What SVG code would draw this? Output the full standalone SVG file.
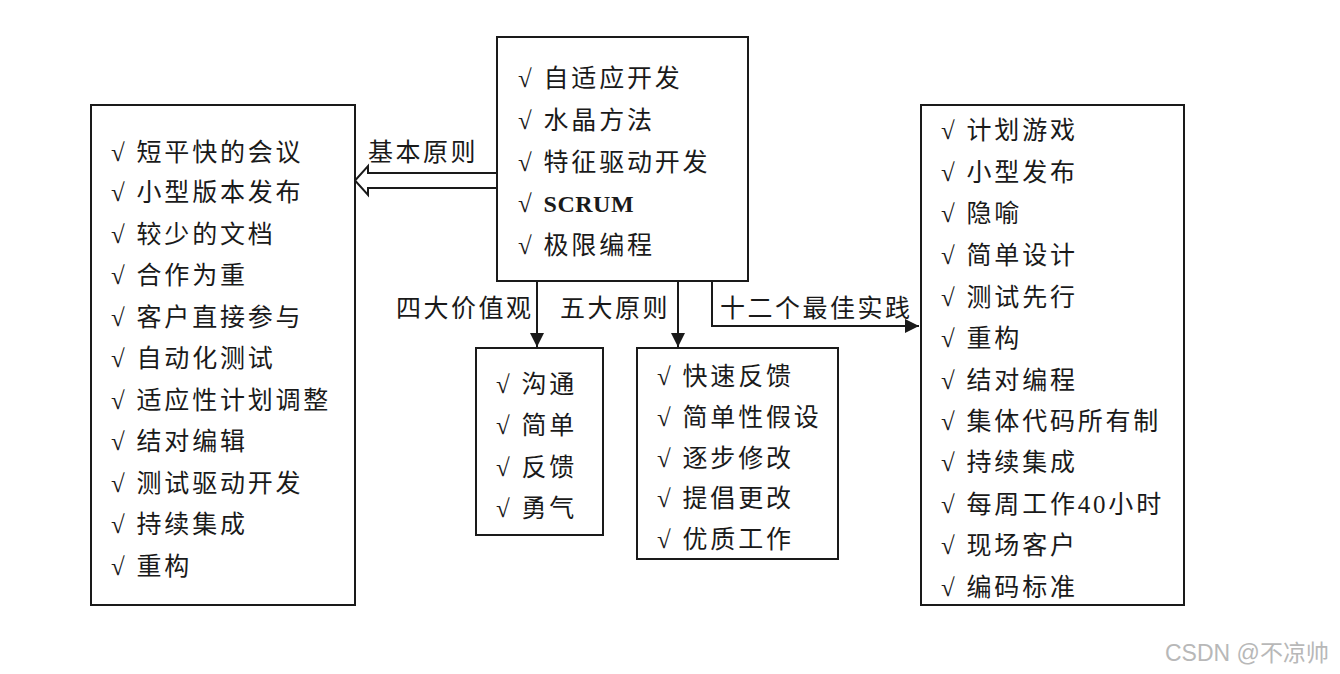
<svg xmlns="http://www.w3.org/2000/svg" width="1340" height="674" viewBox="0 0 1340 674">
<defs>
<style>
.box{fill:#fff;stroke:#1a1a1a;stroke-width:2}
.t{font-family:"Liberation Serif","Noto Sans CJK SC",serif;font-size:25px;fill:#1a1a1a;letter-spacing:2.8px}
.s{font-weight:bold;font-size:24px;letter-spacing:0.5px}
.lbl{font-family:"Noto Sans CJK SC",sans-serif;font-size:25px;fill:#1a1a1a;letter-spacing:2.5px}
.ln{fill:none;stroke:#1a1a1a;stroke-width:2}
.wm{font-family:"Liberation Sans","Noto Sans CJK SC",sans-serif;font-size:23px;fill:#b8b8b8}
</style>
<marker id="ah" viewBox="0 0 14 14" refX="14" refY="7" markerWidth="14" markerHeight="14" markerUnits="userSpaceOnUse" orient="auto">
<path d="M0,0 L14,7 L0,14 Z" fill="#1a1a1a"/>
</marker>
</defs>
<rect width="1340" height="674" fill="#fff"/>

<g id="connectors">
<path class="ln" d="M497,173 H368 V166 L355,180.5 L368,195 V188 H497" fill="#fff"/>
<line class="ln" x1="537" y1="281" x2="537" y2="347" marker-end="url(#ah)"/>
<line class="ln" x1="678" y1="281" x2="678" y2="347" marker-end="url(#ah)"/>
<path class="ln" d="M712,281 V326 H919" marker-end="url(#ah)"/>
<text class="lbl" x="368" y="161">基本原则</text>
<text class="lbl" x="396" y="317">四大价值观</text>
<text class="lbl" x="560" y="317">五大原则</text>
<text class="lbl" x="720" y="317">十二个最佳实践</text>
</g>

<g id="methods">
<rect class="box" x="497" y="37" width="251" height="244"/>
<text class="t" x="518" y="87">√ 自适应开发</text>
<text class="t" x="518" y="129">√ 水晶方法</text>
<text class="t" x="518" y="171">√ 特征驱动开发</text>
<text class="t" x="518" y="212">√ <tspan class="s">SCRUM</tspan></text>
<text class="t" x="518" y="254">√ 极限编程</text>
</g>

<g id="principles">
<rect class="box" x="91" y="105" width="264" height="500"/>
<text class="t" x="111" y="161">√ 短平快的会议</text>
<text class="t" x="111" y="201">√ 小型版本发布</text>
<text class="t" x="111" y="243">√ 较少的文档</text>
<text class="t" x="111" y="284">√ 合作为重</text>
<text class="t" x="111" y="326">√ 客户直接参与</text>
<text class="t" x="111" y="367">√ 自动化测试</text>
<text class="t" x="111" y="409">√ 适应性计划调整</text>
<text class="t" x="111" y="450">√ 结对编辑</text>
<text class="t" x="111" y="492">√ 测试驱动开发</text>
<text class="t" x="111" y="533">√ 持续集成</text>
<text class="t" x="111" y="575">√ 重构</text>
</g>

<g id="values">
<rect class="box" x="476" y="348" width="127" height="187"/>
<text class="t" x="496" y="393">√ 沟通</text>
<text class="t" x="496" y="434">√ 简单</text>
<text class="t" x="496" y="476">√ 反馈</text>
<text class="t" x="496" y="517">√ 勇气</text>
</g>

<g id="five-principles">
<rect class="box" x="637" y="348" width="201" height="211"/>
<text class="t" x="657" y="385">√ 快速反馈</text>
<text class="t" x="657" y="426">√ 简单性假设</text>
<text class="t" x="657" y="467">√ 逐步修改</text>
<text class="t" x="657" y="507">√ 提倡更改</text>
<text class="t" x="657" y="548">√ 优质工作</text>
</g>

<g id="practices">
<rect class="box" x="921" y="105" width="263" height="500"/>
<text class="t" x="941" y="139">√ 计划游戏</text>
<text class="t" x="941" y="181">√ 小型发布</text>
<text class="t" x="941" y="222">√ 隐喻</text>
<text class="t" x="941" y="264">√ 简单设计</text>
<text class="t" x="941" y="306">√ 测试先行</text>
<text class="t" x="941" y="347">√ 重构</text>
<text class="t" x="941" y="389">√ 结对编程</text>
<text class="t" x="941" y="430">√ 集体代码所有制</text>
<text class="t" x="941" y="471">√ 持续集成</text>
<text class="t" x="941" y="513">√ 每周工作40小时</text>
<text class="t" x="941" y="554">√ 现场客户</text>
<text class="t" x="941" y="596">√ 编码标准</text>
</g>

<text class="wm" x="1165" y="661">CSDN @不凉帅</text>
</svg>
